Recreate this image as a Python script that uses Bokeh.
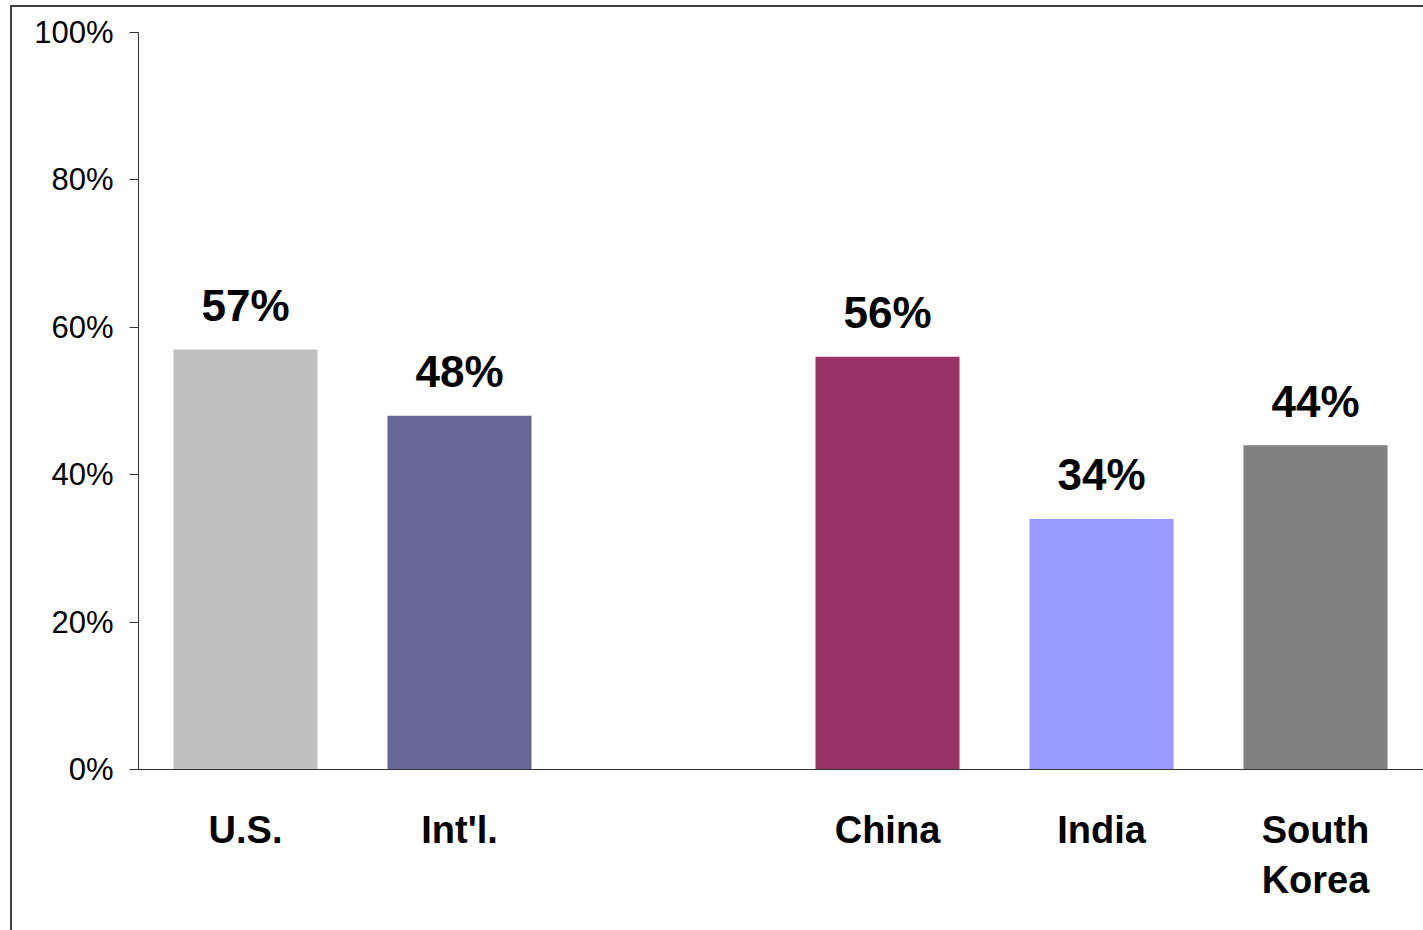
from bokeh.plotting import figure
from bokeh.models import ColumnDataSource, Range1d, FixedTicker
from bokeh.core.properties import value
from bokeh.embed import file_html
from bokeh.resources import INLINE

# ---- data ----
categories = ["U.S.", "Int'l.", "China", "India", "South\nKorea"]
slots = [0, 1, 3, 4, 5]            # slot index (slot 2 is an empty gap)
values = [57, 48, 56, 34, 44]
value_labels = ["57%", "48%", "56%", "34%", "44%"]
colors = ["#C0C0C0", "#666699", "#993366", "#9999FF", "#808080"]
y_ticks = [0, 20, 40, 60, 80, 100]
y_tick_labels = ["0%", "20%", "40%", "60%", "80%", "100%"]

centers = [s + 0.5 for s in slots]
src = ColumnDataSource(dict(x=centers, top=values, color=colors, label=value_labels))

W, H = 1423, 930
p = figure(width=W, height=H, output_backend="svg", toolbar_location=None,
           x_range=Range1d(0, 1285 / 214), y_range=Range1d(0, 100),
           min_border_left=138, min_border_right=0, min_border_top=32,
           min_border_bottom=161)
p.border_fill_color = None
p.background_fill_color = None
p.outline_line_color = None
p.grid.visible = False
p.styles = {"background": "linear-gradient(#404040,#404040) 10px 5px / 2px 100% no-repeat, "
                          "linear-gradient(#404040,#404040) 10px 5px / 100% 2px no-repeat"}

p.vbar(x="x", top="top", bottom=0, width=0.673, color="color", line_color=None, source=src)
p.text(x="x", y="top", text="label", source=src, text_align="center",
       text_baseline="alphabetic", y_offset=-44, text_font=value("Liberation Sans"),
       text_font_size="44px", text_font_style="bold", text_color="black")

# y axis
ya = p.yaxis[0]
ya.ticker = FixedTicker(ticks=y_ticks)
ya.major_label_overrides = {t: l for t, l in zip(y_ticks, y_tick_labels)}
ya.major_label_text_font = "Liberation Sans"
ya.major_label_text_font_size = "31px"
ya.major_label_text_color = "black"
ya.major_tick_out = 9
ya.major_tick_in = 0
ya.minor_tick_out = 0
ya.minor_tick_in = 0
ya.major_label_standoff = 16
ya.axis_line_color = "#333333"
ya.major_tick_line_color = "#333333"

# x axis
xa = p.xaxis[0]
xa.ticker = FixedTicker(ticks=centers)
xa.major_label_overrides = {c: n for c, n in zip(centers, categories)}
xa.major_label_text_font = "Liberation Sans"
xa.major_label_text_font_size = "38px"
xa.major_label_text_font_style = "bold"
xa.major_label_text_color = "black"
xa.major_tick_out = 0
xa.major_tick_in = 0
xa.minor_tick_out = 0
xa.minor_tick_in = 0
xa.major_label_standoff = 39
xa.axis_line_color = "#333333"

open("out.html", "w").write(file_html(p, INLINE))
